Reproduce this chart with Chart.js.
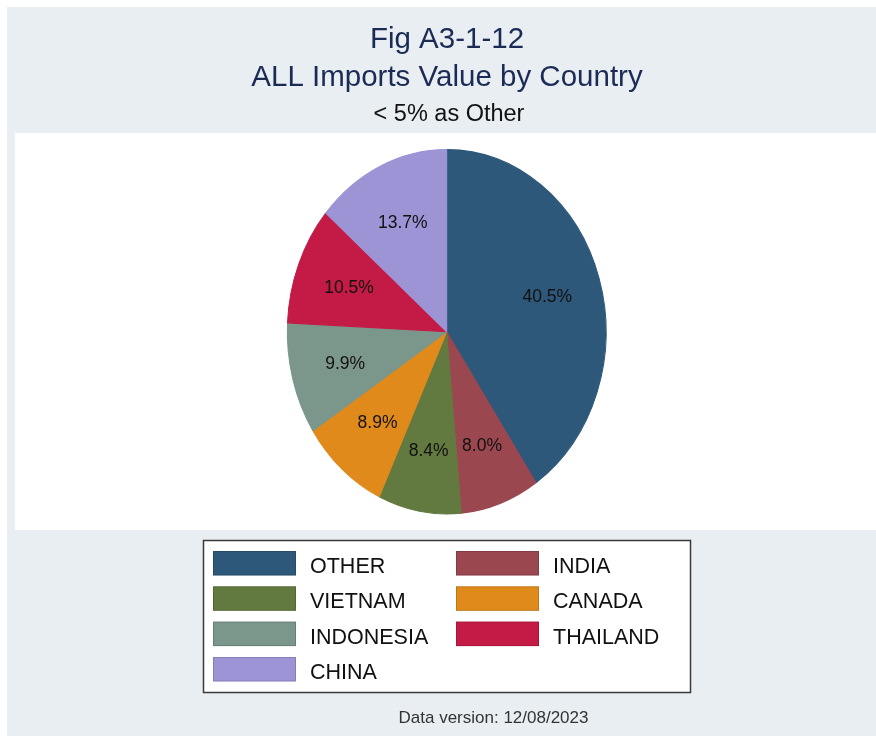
<!DOCTYPE html>
<html>
<head>
<meta charset="utf-8">
<script src="https://cdn.jsdelivr.net/npm/chart.js@4/dist/chart.umd.min.js"></script>
<style>
  html, body { margin: 0; padding: 0; background: #ffffff; }
  canvas { display: block; }
</style>
</head>
<body>
<canvas id="c" width="876" height="736"></canvas>
<script>
// ---- data ----
const categories = ['OTHER', 'INDIA', 'VIETNAM', 'CANADA', 'INDONESIA', 'THAILAND', 'CHINA'];
const shares = [40.5, 8.0, 8.4, 8.9, 9.9, 10.5, 13.7];
const sliceColors = ['#2d5879', '#9a4750', '#627a3f', '#e08a1c', '#7b968b', '#c31b46', '#9d94d6'];
const titleLines = ['Fig A3-1-12', 'ALL Imports Value by Country'];
const subtitleText = '< 5% as Other';
const noteText = 'Data version: 12/08/2023';

// ---- style ----
const FONT = "'Liberation Sans', Arial, Helvetica, sans-serif";
const BG = '#e8eef2';
const Y_STRETCH = 1.143; // pie is drawn as a vertical ellipse

const framePlugin = {
  id: 'frame',
  beforeDraw(chart) {
    const ctx = chart.ctx;
    ctx.save();
    ctx.fillStyle = '#ffffff';
    ctx.fillRect(0, 0, 876, 736);
    ctx.fillStyle = BG;
    ctx.fillRect(7, 7, 869, 729);
    ctx.fillStyle = '#ffffff';
    ctx.fillRect(15, 133, 861, 397);
    ctx.restore();
  },
  beforeDatasetsDraw(chart) {
    const a = chart.getDatasetMeta(0).data[0];
    const ctx = chart.ctx;
    ctx.save();
    ctx.translate(a.x, a.y);
    ctx.scale(1, Y_STRETCH);
    ctx.translate(-a.x, -a.y);
  },
  afterDatasetsDraw(chart) {
    const ctx = chart.ctx;
    ctx.restore();
    // slice labels
    const meta = chart.getDatasetMeta(0);
    ctx.save();
    ctx.font = '17.5px ' + FONT;
    ctx.fillStyle = '#111111';
    ctx.textAlign = 'center';
    ctx.textBaseline = 'middle';
    meta.data.forEach((arc, i) => {
      const mid = (arc.startAngle + arc.endAngle) / 2;
      const r = arc.outerRadius * 0.66;
      const x = arc.x + r * Math.cos(mid);
      const y = arc.y + r * Y_STRETCH * Math.sin(mid);
      ctx.fillText(shares[i].toFixed(1) + '%', x, y + 1);
    });
    ctx.restore();
  },
  afterDraw(chart) {
    const ctx = chart.ctx;
    ctx.save();
    // titles
    ctx.textAlign = 'center';
    ctx.textBaseline = 'alphabetic';
    ctx.fillStyle = '#1c2b55';
    ctx.font = '29.5px ' + FONT;
    ctx.fillText(titleLines[0], 447, 48);
    ctx.fillText(titleLines[1], 447, 86);
    ctx.fillStyle = '#111111';
    ctx.font = '23.5px ' + FONT;
    ctx.fillText(subtitleText, 449, 121);

    // legend box
    const bx = 203.5, by = 540.5, bw = 487, bh = 152;
    ctx.fillStyle = '#ffffff';
    ctx.fillRect(bx, by, bw, bh);
    ctx.strokeStyle = '#3a3a3a';
    ctx.lineWidth = 1.5;
    ctx.strokeRect(bx, by, bw, bh);

    const colSwatchX = [213, 456];
    const colTextX = [310, 553];
    const rowY = [551, 586.3, 621.6, 657];
    ctx.font = '21.5px ' + FONT;
    ctx.textAlign = 'left';
    ctx.textBaseline = 'alphabetic';
    categories.forEach((name, i) => {
      const col = i % 2, row = Math.floor(i / 2);
      ctx.fillStyle = sliceColors[i];
      ctx.fillRect(colSwatchX[col], rowY[row], 83, 24.5);
      ctx.strokeStyle = 'rgba(0,0,0,0.15)';
      ctx.lineWidth = 1;
      ctx.strokeRect(colSwatchX[col] + 0.5, rowY[row] + 0.5, 82, 23.5);
      ctx.fillStyle = '#111111';
      ctx.fillText(name, colTextX[col], rowY[row] + 22);
    });

    // note
    ctx.fillStyle = '#333333';
    ctx.font = '17px ' + FONT;
    ctx.textAlign = 'center';
    ctx.fillText(noteText, 493.5, 723);
    ctx.restore();
  }
};

const cx = 446.7, cy = 331.75, R = 159.9;
new Chart(document.getElementById('c'), {
  type: 'pie',
  data: {
    labels: categories,
    datasets: [{
      data: shares,
      backgroundColor: sliceColors,
      borderColor: sliceColors,
      borderWidth: 1
    }]
  },
  options: {
    responsive: false,
    devicePixelRatio: 1,
    animation: false,
    layout: {
      padding: {
        left: cx - R,
        right: 876 - (cx + R),
        top: cy - R,
        bottom: 736 - (cy + R)
      }
    },
    plugins: {
      legend: { display: false },
      title: { display: false },
      tooltip: { enabled: false }
    }
  },
  plugins: [framePlugin]
});
</script>
</body>
</html>
